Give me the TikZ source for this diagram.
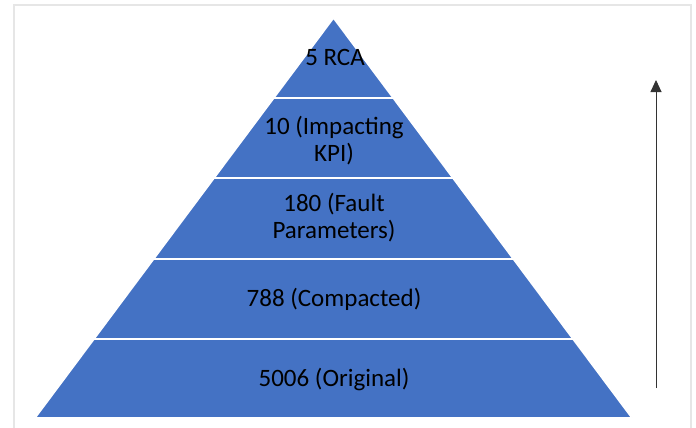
\documentclass[tikz,border=0pt]{standalone}
\usepackage{fontspec}
\setmainfont{Carlito}
\usetikzlibrary{arrows.meta}
\definecolor{pyblue}{HTML}{4472C4}
\definecolor{frame}{HTML}{E6E6E6}
\tikzset{
  layer/.style={fill=pyblue, draw=white, line width=1.6bp, line join=miter},
  lbl/.style={font=\fontsize{25bp}{28bp}\selectfont, text=black, inner sep=0pt, anchor=base},
  frameline/.style={draw=frame, line width=1.2bp},
  uparrow/.style={draw=black!80, line width=0.9bp, -{Triangle[length=12bp,width=11bp]}}
}
\begin{document}
\begin{tikzpicture}[x=1bp,y=-1bp]
\useasboundingbox (0,0) rectangle (696,427);
\fill[white] (0,0) rectangle (696,427);
% frame
\draw[frameline] (14,430) -- (14,5) -- (691,5) -- (691,430);
% layers
\path[layer] (333.5,18) -- (393.2,98) -- (273.8,98) -- cycle;
\path[layer] (273.8,98) -- (393.2,98) -- (452.9,178) -- (214.1,178) -- cycle;
\path[layer] (214.1,178) -- (452.9,178) -- (513.35,259) -- (153.65,259) -- cycle;
\path[layer] (153.65,259) -- (513.35,259) -- (573,339) -- (94,339) -- cycle;
\path[layer] (94,339) -- (573,339) -- (632,418) -- (35,418) -- cycle;
% labels
\node[lbl] (l1) at (335,65) {5 RCA};
\node[lbl] (l2a) at (334,134) {10 (Impacting};
\node[lbl] (l2b) at (334,161.5) {KPI)};
\node[lbl] (l3a) at (334,211) {180 (Fault};
\node[lbl] (l3b) at (334,238) {Parameters)};
\node[lbl] (l4) at (334,306) {788 (Compacted)};
\node[lbl] (l5) at (334,386) {5006 (Original)};
% arrow
\coordinate (abot) at (656,388);
\coordinate (atop) at (656,80);
\draw[uparrow] (abot) -- (atop);
\end{tikzpicture}
\end{document}
